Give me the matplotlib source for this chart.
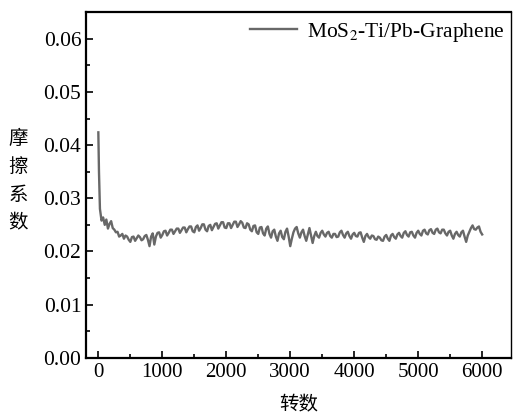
import matplotlib
matplotlib.use("Agg")
import matplotlib.pyplot as plt
import numpy as np
from matplotlib.ticker import MultipleLocator

# friction coefficient vs revolutions
rev_start = [0, 10, 25]
cof_start = [0.0424, 0.0350, 0.0280]

cof_body = [
    0.0258, 0.0264, 0.0250, 0.0260, 0.0243, 0.0252, 0.0257, 0.0244,
    0.0241, 0.0236, 0.0237, 0.0228, 0.0230, 0.0233, 0.0224, 0.0230,
    0.0228, 0.0222, 0.0218, 0.0227, 0.0228, 0.0220, 0.0225, 0.0230,
    0.0227, 0.0221, 0.0223, 0.0229, 0.0231, 0.0222, 0.0210, 0.0228,
    0.0234, 0.0213, 0.0228, 0.0235, 0.0236, 0.0226, 0.0231, 0.0238,
    0.0239, 0.0230, 0.0235, 0.0241, 0.0241, 0.0233, 0.0238, 0.0243,
    0.0243, 0.0235, 0.0240, 0.0245, 0.0245, 0.0236, 0.0242, 0.0247,
    0.0247, 0.0238, 0.0236, 0.0246, 0.0249, 0.0239, 0.0244, 0.0251,
    0.0251, 0.0241, 0.0238, 0.0248, 0.0250, 0.0240, 0.0246, 0.0252,
    0.0253, 0.0243, 0.0249, 0.0255, 0.0255, 0.0245, 0.0244, 0.0253,
    0.0253, 0.0244, 0.0250, 0.0256, 0.0256, 0.0246, 0.0251, 0.0257,
    0.0254, 0.0245, 0.0244, 0.0253, 0.0251, 0.0241, 0.0238, 0.0248,
    0.0249, 0.0236, 0.0233, 0.0245, 0.0246, 0.0234, 0.0230, 0.0243,
    0.0247, 0.0233, 0.0226, 0.0238, 0.0241, 0.0228, 0.0220, 0.0234,
    0.0239, 0.0227, 0.0223, 0.0237, 0.0243, 0.0228, 0.0210, 0.0224,
    0.0236, 0.0243, 0.0246, 0.0234, 0.0226, 0.0236, 0.0241, 0.0229,
    0.0220, 0.0232, 0.0244, 0.0230, 0.0216, 0.0229, 0.0237, 0.0229,
    0.0226, 0.0235, 0.0239, 0.0232, 0.0228, 0.0235, 0.0237, 0.0229,
    0.0226, 0.0233, 0.0233, 0.0227, 0.0228, 0.0236, 0.0239, 0.0231,
    0.0226, 0.0234, 0.0237, 0.0229, 0.0224, 0.0232, 0.0235, 0.0229,
    0.0228, 0.0235, 0.0236, 0.0226, 0.0218, 0.0229, 0.0233, 0.0227,
    0.0224, 0.0230, 0.0229, 0.0223, 0.0222, 0.0228, 0.0226, 0.0221,
    0.0220, 0.0228, 0.0231, 0.0224, 0.0220, 0.0230, 0.0233, 0.0227,
    0.0224, 0.0232, 0.0235, 0.0229, 0.0226, 0.0235, 0.0238, 0.0231,
    0.0228, 0.0236, 0.0237, 0.0230, 0.0226, 0.0235, 0.0239, 0.0233,
    0.0230, 0.0239, 0.0241, 0.0234, 0.0232, 0.0240, 0.0242, 0.0235,
    0.0233, 0.0241, 0.0243, 0.0236, 0.0234, 0.0241, 0.0241, 0.0234,
    0.0230, 0.0237, 0.0239, 0.0230, 0.0224, 0.0233, 0.0237, 0.0231,
    0.0228, 0.0236, 0.0239, 0.0228, 0.0218, 0.0230, 0.0237, 0.0244,
    0.0249, 0.0242, 0.0241, 0.0245, 0.0247, 0.0237, 0.0232,
]
rev_body = np.arange(50, 50 + 25 * len(cof_body), 25)

revs = np.concatenate([rev_start, rev_body])
cof = np.concatenate([cof_start, cof_body])

plt.rcParams['font.family'] = ['Liberation Serif', 'Noto Sans CJK SC']
plt.rcParams['mathtext.fontset'] = 'stix'

fig = plt.figure(figsize=(5.13, 4.19), dpi=100)
ax = fig.add_axes([0.168, 0.146, 0.828, 0.825])
ax.plot(revs, cof, color='#686868', lw=1.7, label=r'MoS$_2$-Ti/Pb-Graphene')

ax.set_xlim(-190, 6450)
ax.set_ylim(0, 0.065)
ax.xaxis.set_major_locator(MultipleLocator(1000))
ax.xaxis.set_minor_locator(MultipleLocator(500))
ax.yaxis.set_major_locator(MultipleLocator(0.01))
ax.yaxis.set_minor_locator(MultipleLocator(0.005))
ax.yaxis.set_major_formatter(plt.FormatStrFormatter('%.2f'))
ax.tick_params(which='both', direction='in', labelsize=15, width=1.2)
ax.tick_params(axis='y', labelsize=15.5)
ax.tick_params(which='major', length=5)
ax.tick_params(which='minor', length=3)
for s in ['left', 'bottom', 'top']:
    ax.spines[s].set_linewidth(1.6)
ax.spines['right'].set_linewidth(1.0)

ax.set_xlabel('转数', family='Noto Sans CJK SC', fontsize=14, labelpad=9)
fig.text(0.036, 0.568, '摩\n擦\n系\n数', family='Noto Sans CJK SC', fontsize=14,
         ha='center', va='center', linespacing=1.45)

ax.legend(loc='upper right', frameon=False, fontsize=15.5, handlelength=2.2,
          handletextpad=0.45, borderaxespad=0.0, bbox_to_anchor=(1.005, 1.0))

fig.savefig('out.png', dpi=100, facecolor='white')
